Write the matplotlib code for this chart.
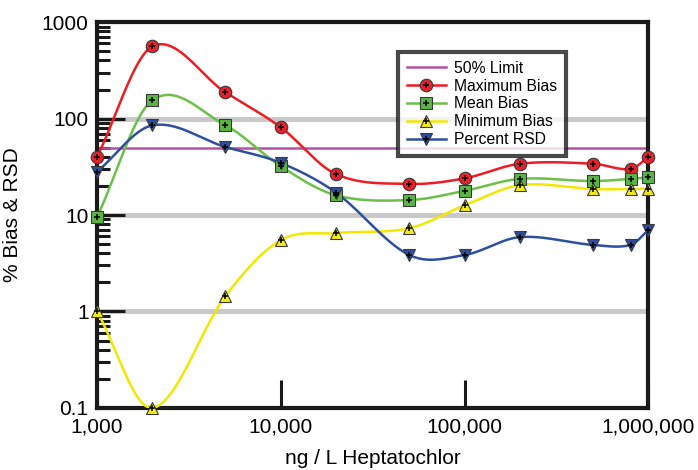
import matplotlib
matplotlib.use('Agg')
import matplotlib.pyplot as plt
import numpy as np
from matplotlib.lines import Line2D
from matplotlib.ticker import FixedLocator, NullLocator, LogLocator, NullFormatter

plt.rcParams['font.family'] = ['Liberation Sans', 'DejaVu Sans']

conc = [1000, 2000, 5000, 10000, 20000, 50000, 100000, 200000, 500000, 800000, 1000000]
max_bias = [40, 560, 187, 81, 26.5, 21, 24, 34, 34, 30, 40]
mean_bias = [9.5, 155, 85, 32, 16, 14.3, 17.8, 23.7, 22.5, 23.7, 24.5]
min_bias = [1.0, 0.1, 1.45, 5.5, 6.5, 7.3, 12.6, 20.4, 18.6, 18.6, 18.8]
pct_rsd = [28, 85, 50.7, 34.7, 17, 3.85, 3.85, 5.9, 4.9, 4.9, 7.0]
limit = 50

xticks = [1e3, 1e4, 1e5, 1e6]
xticklabels = ['1,000', '10,000', '100,000', '1,000,000']
yticks = [0.1, 1, 10, 100, 1000]
yticklabels = ['0.1', '1', '10', '100', '1000']


def smooth_curve(x, y, n=60):
    # cubic Hermite segments with centred-difference tangents (Catmull-Rom style)
    x = np.asarray(x, float)
    y = np.asarray(y, float)
    m = np.gradient(y, x, edge_order=1)
    m[1:-1] = (y[2:] - y[:-2]) / (x[2:] - x[:-2])
    xs_all, ys_all = [], []
    for i in range(len(x) - 1):
        h = x[i + 1] - x[i]
        t = np.linspace(0, 1, n)
        h00 = 2 * t ** 3 - 3 * t ** 2 + 1
        h10 = t ** 3 - 2 * t ** 2 + t
        h01 = -2 * t ** 3 + 3 * t ** 2
        h11 = t ** 3 - t ** 2
        xs_all.append(x[i] + t * h)
        ys_all.append(h00 * y[i] + h10 * h * m[i] + h01 * y[i + 1] + h11 * h * m[i + 1])
    return np.concatenate(xs_all), np.concatenate(ys_all)


fig = plt.figure(figsize=(6.98, 4.70), dpi=100)
ax = fig.add_axes([0.139, 0.132, 0.790, 0.821])
ax.set_xscale('log')
ax.set_yscale('log')
ax.set_xlim(1e3, 1e6)
ax.set_ylim(0.1, 1000)

for g in [1, 10, 100]:
    ax.axhline(g, color='#c8c8c8', lw=3.5, zorder=1)

ax.axhline(limit, color='#b5529f', lw=1.8, zorder=2)

series = [
    (max_bias, '#ee1c24', '#e8202a', 'o', 9, 'Maximum Bias'),
    (mean_bias, '#6cc04a', '#5cb346', 's', 8, 'Mean Bias'),
    (min_bias, '#f2e900', '#f5ea14', '^', 9, 'Minimum Bias'),
    (pct_rsd, '#2e4fa0', '#2d4fa2', 'v', 9, 'Percent RSD'),
]

lx = np.log10(conc)
for vals, lc, fc, mk, ms, lab in series:
    xs, ys = smooth_curve(lx, np.log10(vals))
    ax.plot(10 ** xs, 10 ** ys, color=lc, lw=1.8, zorder=3)
for vals, lc, fc, mk, ms, lab in series:
    ax.plot(conc, vals, ls='none', marker=mk, ms=ms, mfc=fc, mec='#3a3a3a', mew=0.8,
            zorder=5, clip_on=False)
    ax.plot(conc, vals, ls='none', marker='+', ms=5, mec='black', mew=1.1,
            zorder=6, clip_on=False)

for s in ax.spines.values():
    s.set_linewidth(3)
    s.set_color('#1a1a1a')

ax.xaxis.set_major_locator(FixedLocator(xticks))
ax.set_xticklabels(xticklabels)
ax.xaxis.set_minor_locator(NullLocator())
ax.yaxis.set_major_locator(FixedLocator(yticks))
ax.set_yticklabels(yticklabels)
ax.yaxis.set_minor_locator(LogLocator(base=10, subs=np.arange(2, 10), numticks=20))
ax.yaxis.set_minor_formatter(NullFormatter())
ax.tick_params(axis='both', which='major', direction='in', length=20, width=2.2,
               color='#1a1a1a', labelsize=15, pad=6)
ax.tick_params(axis='y', which='minor', direction='in', length=9, width=2.2, color='#1a1a1a')
ax.tick_params(axis='x', which='major', length=20, pad=7)

ax.set_xlabel('ng / L Heptatochlor', fontsize=15, labelpad=9)
ax.set_ylabel('% Bias & RSD', fontsize=15, labelpad=14)

handles = [Line2D([], [], color='#b5529f', lw=1.8)]
labels = ['50% Limit']
for vals, lc, fc, mk, ms, lab in series:
    h1 = Line2D([], [], color=lc, lw=1.8, marker=mk, ms=ms, mfc=fc, mec='#3a3a3a', mew=0.8)
    h2 = Line2D([], [], ls='none', marker='+', ms=5, mec='black', mew=1.1)
    handles.append((h1, h2))
    labels.append(lab)

leg = ax.legend(handles, labels, loc='upper left', bbox_to_anchor=(0.546, 0.922),
                borderaxespad=0, fontsize=11.3, frameon=True, fancybox=False,
                handlelength=2.5, handletextpad=0.5, labelspacing=0.18, numpoints=1,
                borderpad=0.55)
leg.get_frame().set_edgecolor('#1a1a1a')
leg.get_frame().set_linewidth(3)
leg.set_zorder(10)

fig.savefig('out.png', dpi=100)
